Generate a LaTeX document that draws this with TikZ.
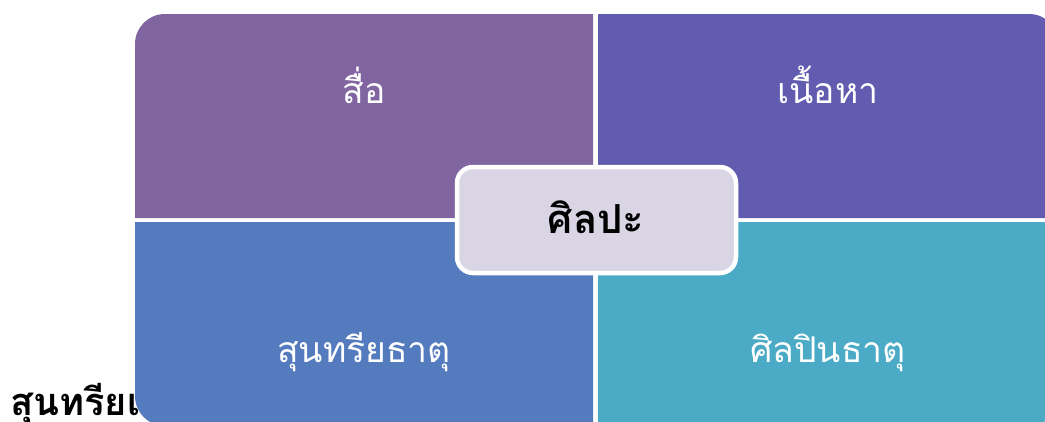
\documentclass[tikz,border=0pt]{standalone}
\usepackage{fontspec}
\newfontfamily\thai[Script=Thai]{Loma}
\definecolor{qtl}{RGB}{128,101,160}
\definecolor{qtr}{RGB}{97,92,175}
\definecolor{qbl}{RGB}{84,123,189}
\definecolor{qbr}{RGB}{75,171,198}
\definecolor{cen}{RGB}{217,213,228}
\begin{document}
\begin{tikzpicture}[x=1pt,y=-1pt,
  qlabel/.style={text=white,font=\thai\fontsize{35.5}{40}\selectfont,inner sep=0pt,anchor=base},
  centerbox/.style={draw=white,line width=4.5pt,fill=cen,rounded corners=16pt,minimum width=279pt,minimum height=106pt,inner sep=0pt},
  centertext/.style={font=\thai\bfseries\fontsize{40}{44}\selectfont,text=black,inner sep=0pt,anchor=base}]
\useasboundingbox (0,0) rectangle (1045,421);
\fill[white] (0,0) rectangle (1045,421);
\node[anchor=base west,inner sep=0pt,font=\thai\bfseries\fontsize{38}{42}\selectfont] (side) at (10,415) {สุนทรียเ};
\fill[qtl] (135,218) -- (135,44) arc[start angle=180,end angle=270,radius=30] -- (593,14) -- (593,218) -- cycle;
\fill[qtr] (598,218) -- (598,14) -- (1029,14) arc[start angle=270,end angle=360,radius=30] -- (1059,218) -- cycle;
\fill[qbl] (135,222) -- (593,222) -- (593,426) -- (165,426) arc[start angle=90,end angle=180,radius=30] -- cycle;
\fill[qbr] (598,222) -- (1059,222) -- (1059,396) arc[start angle=0,end angle=90,radius=30] -- (598,426) -- cycle;
\node[qlabel] (media) at (364,103) {สื่อ};
\node[qlabel] (content) at (828,103) {เนื้อหา};
\node[qlabel] (aesth) at (364,362) {สุนทรียธาตุ};
\node[qlabel] (artist) at (828,362) {ศิลปินธาตุ};
\node[centerbox] (art) at (596.5,220) {};
\node[centertext] (artlabel) at (596,233) {ศิลปะ};
\end{tikzpicture}
\end{document}
